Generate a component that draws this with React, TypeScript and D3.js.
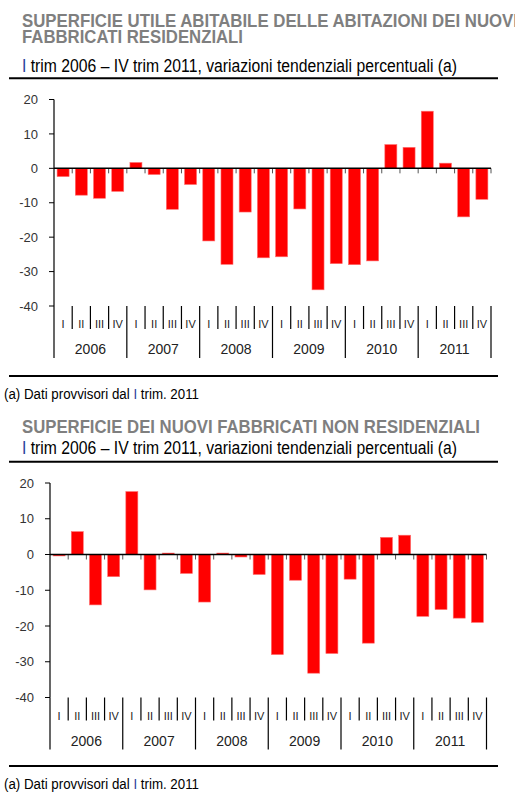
import * as d3 from "d3";

const years = ["2006", "2007", "2008", "2009", "2010", "2011"];
const quarters = ["I", "II", "III", "IV"];
const yTicks = [20, 10, 0, -10, -20, -30, -40];

// superficie utile abitabile, fabbricati residenziali
const residenziali = [
  -2.4, -7.8, -8.7, -6.7,
  1.7, -1.8, -11.9, -4.7,
  -21.1, -27.9, -12.7, -26.0,
  -25.7, -11.8, -35.3, -27.7,
  -28.0, -26.9, 6.9, 6.1,
  16.6, 1.5, -14.1, -9.0,
];

// superficie fabbricati non residenziali
const nonResidenziali = [
  -0.4, 6.4, -14.1, -6.2,
  17.6, -9.9, 0.4, -5.3,
  -13.3, 0.4, -0.7, -5.6,
  -28.0, -7.2, -33.2, -27.7,
  -6.9, -24.8, 4.8, 5.4,
  -17.3, -15.4, -17.8, -19.0,
];

const FONT = "'Liberation Sans', Arial, sans-serif";

type ChartProps = {
  values: number[];
  x0: number;
  x1: number;
  yTop: number;
  yBottom: number;
};

function BarChart({ values, x0, x1, yTop, yBottom }: ChartProps) {
  const labels = years.flatMap((yr) => quarters.map((q) => `${q} ${yr}`));
  const x = d3.scaleBand<string>().domain(labels).range([x0, x1]).paddingInner(0.34).paddingOuter(0.17);
  const y = d3.scaleLinear().domain([20, -40]).range([yTop, yBottom]);
  const step = x.step();
  const boundaries = d3.range(labels.length + 1).map((i) => x0 + i * step);

  return (
    <g fontFamily={FONT}>
      {values.map((v, i) => (
        <rect
          key={i}
          x={x(labels[i])}
          y={y(Math.max(0, v))}
          width={x.bandwidth()}
          height={Math.abs(y(v) - y(0))}
          fill="#ff0000"
          stroke="#ff7070"
          strokeWidth={0.6}
        />
      ))}
      {/* small ticks under zero line */}
      {boundaries.slice(1).map((bx, i) => (
        <line key={i} x1={bx} x2={bx} y1={y(0)} y2={y(0) + 5} stroke="#555" strokeWidth={1} />
      ))}
      <line x1={x0} x2={x1} y1={y(0)} y2={y(0)} stroke="#000" strokeWidth={1.5} />
      {/* y axis */}
      <line x1={x0} x2={x0} y1={yTop} y2={yBottom} stroke="#000" strokeWidth={1.2} />
      {yTicks.map((t) => (
        <g key={t}>
          <line x1={x0 - 5} x2={x0} y1={y(t)} y2={y(t)} stroke="#000" strokeWidth={1} />
          <text x={x0 - 16} y={y(t)} dy="0.36em" textAnchor="end" fontSize={13} fill="#333">
            {t}
          </text>
        </g>
      ))}
      {/* category axis */}
      {boundaries.map((bx, i) => (
        <line
          key={i}
          x1={bx}
          x2={bx}
          y1={yBottom}
          y2={yBottom + (i % 4 === 0 ? 52 : 23)}
          stroke="#000"
          strokeWidth={1.2}
        />
      ))}
      {labels.map((l, i) => {
        const cx = (x(l) ?? 0) + x.bandwidth() / 2;
        return (
          <text key={l} x={cx} y={yBottom + 22} textAnchor="middle" fontSize={11} fill="#222">
            {quarters[i % 4]}
          </text>
        );
      })}
      {years.map((yr, i) => (
        <text
          key={yr}
          x={x0 + (i * 4 + 2) * step}
          y={yBottom + 48}
          textAnchor="middle"
          fontSize={14}
          fill="#222"
        >
          {yr}
        </text>
      ))}
    </g>
  );
}

function Header({ lines, lineLengths, top, subBase, ruleY }: { lines: string[]; lineLengths: number[]; top: number; subBase: number; ruleY: number }) {
  return (
    <g fontFamily={FONT}>
      {lines.map((l, i) => (
        <text
          key={i}
          x={22}
          y={top + i * 16}
          fontSize={17.5}
          fontWeight="bold"
          fill="#7f7f7f"
          textLength={lineLengths[i]}
          lengthAdjust="spacingAndGlyphs"
        >
          {l}
        </text>
      ))}
      <text x={22} y={subBase} fontSize={17.5} fill="#000" textLength={435} lengthAdjust="spacingAndGlyphs">
        <tspan fill="#2a3c9a">I</tspan> trim 2006 – IV trim 2011, variazioni tendenziali percentuali (a)
      </text>
      <line x1={9} x2={498} y1={ruleY} y2={ruleY} stroke="#000" strokeWidth={2} />
    </g>
  );
}

function Footnote({ y, ruleY }: { y: number; ruleY: number }) {
  return (
    <g fontFamily={FONT}>
      <line x1={9} x2={498} y1={ruleY} y2={ruleY} stroke="#000" strokeWidth={2} />
      <text x={4} y={y} fontSize={14} fill="#000" textLength={195} lengthAdjust="spacingAndGlyphs">
        (a) Dati provvisori dal <tspan fill="#2a3c9a">I</tspan> trim. 2011
      </text>
    </g>
  );
}

export default function App() {
  return (
    <div style={{ position: "absolute", left: 0, top: 0 }}>
      <svg width={515} height={806} style={{ display: "block", background: "#fff" }}>
        <Header
          lines={["SUPERFICIE UTILE ABITABILE DELLE ABITAZIONI DEI NUOVI", "FABBRICATI RESIDENZIALI"]}
          lineLengths={[496, 221]}
          top={27.2}
          subBase={71.5}
          ruleY={78.3}
        />
        <BarChart values={residenziali} x0={54} x1={491} yTop={99.5} yBottom={306} />
        <Footnote y={399} ruleY={376} />

        <Header
          lines={["SUPERFICIE DEI NUOVI FABBRICATI NON RESIDENZIALI"]}
          lineLengths={[458]}
          top={432.7}
          subBase={454.3}
          ruleY={461.7}
        />
        <BarChart values={nonResidenziali} x0={50} x1={486.5} yTop={483} yBottom={697.5} />
        <Footnote y={789} ruleY={766} />
      </svg>
    </div>
  );
}
